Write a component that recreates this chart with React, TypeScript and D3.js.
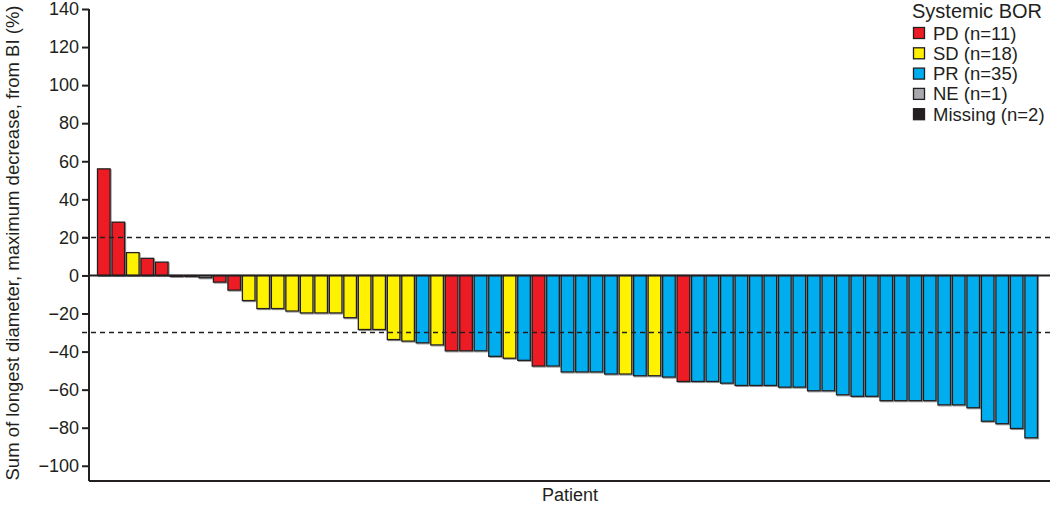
import React, { useRef, useEffect } from 'react';
import * as d3 from 'd3';

// best percentage change per patient, sorted as in the figure
const values = [
  56, 28, 12, 9, 7, -0.5, -0.5, -1.2, -3.5, -7.7,
  -13.2, -17.4, -17.4, -18.7, -19.7, -19.7, -19.7, -22.2, -28.4, -28.4,
  -33.7, -34.5, -35.4, -36.5, -39.6, -39.6, -39.6, -42.5, -43.5, -44.6,
  -47.6, -47.6, -50.7, -50.7, -50.7, -51.8, -51.8, -52.7, -52.7, -53.4,
  -55.7, -55.7, -55.7, -56.6, -57.8, -57.8, -57.8, -58.7, -58.7, -60.6,
  -60.6, -62.7, -63.5, -63.5, -65.8, -65.8, -65.8, -65.8, -68.0, -68.0,
  -69.5, -76.6, -77.9, -80.4, -85.3,
];

const responses = [
  'PD', 'PD', 'SD', 'PD', 'PD', 'MS', 'MS', 'NE', 'PD', 'PD',
  'SD', 'SD', 'SD', 'SD', 'SD', 'SD', 'SD', 'SD', 'SD', 'SD',
  'SD', 'SD', 'PR', 'SD', 'PD', 'PD', 'PR', 'PR', 'SD', 'PR',
  'PD', 'PR', 'PR', 'PR', 'PR', 'PR', 'SD', 'PR', 'SD', 'PR',
  'PD', 'PR', 'PR', 'PR', 'PR', 'PR', 'PR', 'PR', 'PR', 'PR',
  'PR', 'PR', 'PR', 'PR', 'PR', 'PR', 'PR', 'PR', 'PR', 'PR',
  'PR', 'PR', 'PR', 'PR', 'PR',
];

const legendKeys = ['PD', 'SD', 'PR', 'NE', 'MS'];
const legendLabels = ['PD (n=11)', 'SD (n=18)', 'PR (n=35)', 'NE (n=1)', 'Missing (n=2)'];
const legendColors = ['#ed1c24', '#fff200', '#00aeef', '#a7a9ac', '#231f20'];

const yTicks = [-100, -80, -60, -40, -20, 0, 20, 40, 60, 80, 100, 120, 140];
const refLines = [20, -30];

const FONT = '"Liberation Sans", Arial, Helvetica, sans-serif';

function App() {
  const ref = useRef(null);

  useEffect(() => {
    draw();
  }, []);

  function draw() {
    const root = d3.select(ref.current);
    root.selectAll('*').remove();

    const width = 1050;
    const height = 508;
    const axisX = 89;
    const right = 1050;

    const y = d3.scaleLinear().domain([-108, 140]).range([481, 9]);
    const x = d3
      .scaleBand()
      .domain(values.map((d, i) => String(i)))
      .range([97.5, 1037.5])
      .paddingInner(0.13)
      .paddingOuter(0);
    const color = d3.scaleOrdinal().domain(legendKeys).range(legendColors);

    const svg = root
      .append('svg')
      .attr('width', width)
      .attr('height', height)
      .style('position', 'absolute')
      .style('left', 0)
      .style('top', 0)
      .style('font-family', FONT);

    // bar shadows, then bars
    svg
      .append('g')
      .selectAll('rect')
      .data(values)
      .enter()
      .append('rect')
      .attr('x', (d, i) => x(String(i)) + 1)
      .attr('width', x.bandwidth())
      .attr('y', (d) => y(Math.max(0, d)) + 1)
      .attr('height', (d) => Math.abs(y(d) - y(0)))
      .attr('fill', 'none')
      .attr('stroke', '#9a9a9a')
      .attr('stroke-width', 1.2);

    svg
      .append('g')
      .selectAll('rect')
      .data(values)
      .enter()
      .append('rect')
      .attr('x', (d, i) => x(String(i)))
      .attr('width', x.bandwidth())
      .attr('y', (d) => y(Math.max(0, d)))
      .attr('height', (d) => Math.abs(y(d) - y(0)))
      .attr('fill', (d, i) => color(responses[i]))
      .attr('stroke', '#231f20')
      .attr('stroke-width', 1.3);

    // reference lines
    svg
      .append('g')
      .selectAll('line')
      .data(refLines)
      .enter()
      .append('line')
      .attr('x1', axisX - 7)
      .attr('x2', right)
      .attr('y1', (d) => y(d))
      .attr('y2', (d) => y(d))
      .attr('stroke', '#231f20')
      .attr('stroke-width', 1.5)
      .attr('stroke-dasharray', '5,4');

    // zero line
    svg
      .append('line')
      .attr('x1', axisX)
      .attr('x2', right)
      .attr('y1', y(0))
      .attr('y2', y(0))
      .attr('stroke', '#231f20')
      .attr('stroke-width', 2);

    // bottom line
    svg
      .append('line')
      .attr('x1', axisX)
      .attr('x2', right)
      .attr('y1', y(-108))
      .attr('y2', y(-108))
      .attr('stroke', '#231f20')
      .attr('stroke-width', 2);

    // y axis
    const yAxis = svg
      .append('g')
      .attr('transform', 'translate(' + axisX + ',0)')
      .call(d3.axisLeft(y).tickValues(yTicks).tickSize(7).tickPadding(3).tickSizeOuter(0));
    yAxis.select('.domain').attr('stroke', '#231f20').attr('stroke-width', 2)
      .attr('d', 'M0,' + y(140) + 'V' + y(-108));
    yAxis.selectAll('.tick line').attr('stroke', '#231f20').attr('stroke-width', 2);
    yAxis
      .selectAll('.tick text')
      .attr('fill', '#231f20')
      .style('font-family', FONT)
      .style('font-size', '18px');

    // axis titles
    svg
      .append('text')
      .attr('transform', 'translate(19,' + 243 + ') rotate(-90)')
      .attr('text-anchor', 'middle')
      .attr('fill', '#231f20')
      .style('font-size', '18.5px')
      .text('Sum of longest diameter, maximum decrease, from BI (%)');

    svg
      .append('text')
      .attr('x', 570)
      .attr('y', 501)
      .attr('text-anchor', 'middle')
      .attr('fill', '#231f20')
      .style('font-size', '18px')
      .text('Patient');

    // legend
    const legend = svg.append('g').attr('transform', 'translate(912,0)');
    legend
      .append('text')
      .attr('x', 0)
      .attr('y', 18)
      .attr('fill', '#231f20')
      .style('font-size', '20px')
      .text('Systemic BOR');
    const item = legend
      .selectAll('.item')
      .data(legendKeys)
      .enter()
      .append('g')
      .attr('class', 'item')
      .attr('transform', (d, i) => 'translate(0,' + (33 + i * 20.3) + ')');
    item
      .append('rect')
      .attr('x', 1.5)
      .attr('y', -5.5)
      .attr('width', 11)
      .attr('height', 11)
      .attr('fill', (d) => color(d))
      .attr('stroke', '#231f20')
      .attr('stroke-width', 1.3);
    item
      .append('text')
      .attr('x', 21)
      .attr('y', 6.5)
      .attr('fill', '#231f20')
      .style('font-size', '18.5px')
      .text((d, i) => legendLabels[i]);
  }

  return <div id="waterfall" ref={ref} />;
}

export default App;
